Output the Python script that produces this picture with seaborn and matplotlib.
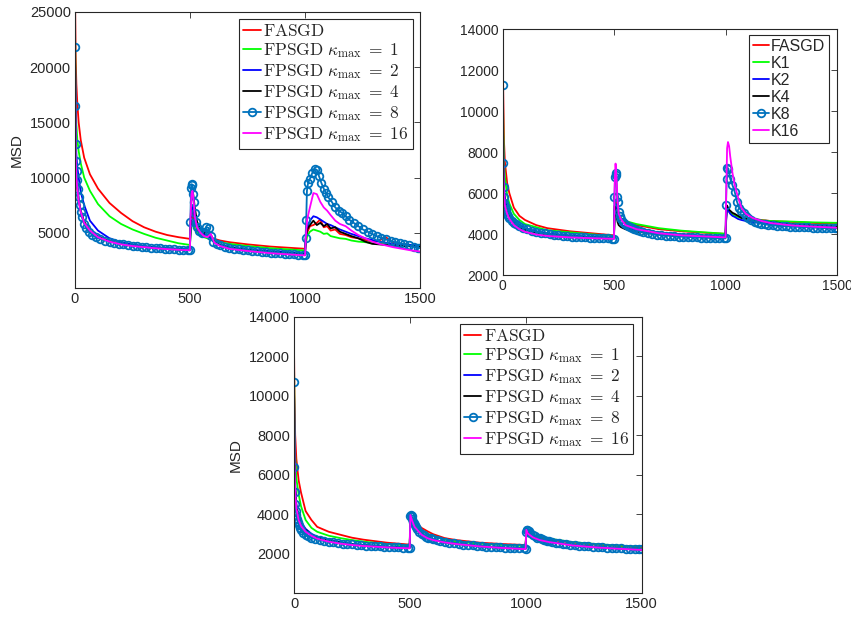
import numpy as np
import pandas as pd
import seaborn as sns
import matplotlib.pyplot as plt

# x positions (iterations) used for the plain lines of each panel
XA = [0, 3, 6, 10, 16, 25, 40, 65, 100, 150, 200, 250, 300, 350, 400, 450, 499,
      502, 506, 510, 515, 520, 530, 545, 560, 575, 590, 605, 630, 670, 750, 850, 999,
      1002, 1008, 1020, 1035, 1050, 1065, 1080, 1095, 1110, 1130, 1150, 1175, 1200,
      1230, 1260, 1290, 1320, 1350, 1380, 1420, 1460, 1500]
XB = [0, 3, 6, 10, 20, 30, 50, 75, 100, 150, 200, 300, 400, 499,
      502, 506, 510, 515, 520, 530, 550, 600, 700, 800, 900, 999,
      1002, 1006, 1010, 1015, 1020, 1030, 1040, 1055, 1070, 1090, 1120, 1160, 1200,
      1300, 1400, 1500]
XC = [0, 2, 5, 10, 20, 30, 50, 75, 100, 150, 200, 250, 300, 400, 499,
      502, 510, 520, 550, 575, 600, 650, 700, 800, 900, 999,
      1002, 1010, 1030, 1060, 1100, 1200, 1300, 1400, 1500]
# denser x positions for the marked kappa_max = 8 curve
X8 = [0, 2, 4, 6, 8, 10, 13, 16, 20, 25, 30, 40, 50, 60, 75, 90, 110, 130, 150, 170,
      190, 210, 230, 250, 270, 290, 310, 330, 350, 370, 390, 410, 430, 450, 470, 490, 499,
      501, 504, 507, 510, 513, 516, 520, 525, 530, 540, 550, 560, 570, 580, 590, 600,
      615, 630, 650, 670, 690, 710, 730, 750, 770, 790, 810, 830, 850, 870, 890, 910,
      930, 950, 970, 990, 999,
      1001, 1004, 1007, 1012, 1020, 1030, 1040, 1050, 1060, 1070, 1080, 1090, 1100,
      1115, 1130, 1145, 1160, 1175, 1190, 1210, 1230, 1250, 1270, 1290, 1310, 1330,
      1350, 1370, 1390, 1410, 1430, 1450, 1470, 1490, 1500]

# ---- top-left panel (MSD values) ----
a_fasgd = [27000, 21000, 18500, 16800, 15000, 13400, 11800, 10300, 9000, 7700, 6800, 6050, 5500, 5100, 4800, 4600, 4450,
           5200, 6200, 6800, 6300, 5800, 5300, 5000, 4800, 4700, 4550, 4450, 4300, 4150, 3950, 3750, 3550,
           4400, 5000, 5600, 5700, 5900, 6200, 5500, 5600, 5200, 5300, 4900, 4800, 4600, 4500, 4350, 4200,
           4300, 4600, 4100, 4000, 3850, 3750]
a_k1 = [24300, 16500, 14800, 13500, 12400, 11300, 10000, 8800, 7600, 6500, 5800, 5300, 4900, 4550, 4300, 4050, 3900,
        4800, 5600, 6000, 5700, 5400, 5000, 4750, 4600, 4500, 4350, 4250, 4150, 4000, 3800, 3600, 3400,
        4000, 4700, 5100, 5300, 5200, 5100, 4900, 4950, 4700, 4600, 4500, 4450, 4300, 4200, 4150, 4050,
        4000, 3950, 3900, 3850, 3800, 3750]
a_k2 = [22000, 14000, 12000, 11000, 10000, 8700, 7500, 6100, 5200, 4500, 4150, 3950, 3800, 3700, 3620, 3560, 3500,
        5500, 7000, 7500, 7000, 6300, 5500, 5100, 4900, 4800, 4500, 4100, 3900, 3700, 3500, 3330, 3150,
        4500, 5500, 6100, 6500, 6400, 6200, 6000, 5800, 5700, 5500, 5300, 5100, 4900, 4700, 4500, 4350,
        4200, 4100, 4000, 3950, 3900, 3850]
a_k4 = [22000, 12000, 10000, 9000, 8000, 7000, 6000, 5200, 4650, 4250, 4000, 3850, 3720, 3620, 3550, 3480, 3430,
        6000, 8500, 9000, 8200, 7300, 6000, 5300, 5000, 5100, 4800, 4200, 3900, 3650, 3450, 3250, 3050,
        4500, 5300, 5700, 6100, 5700, 5900, 5600, 5800, 5400, 5500, 5100, 4900, 4700, 4500, 4200, 4000,
        3950, 3900, 3850, 3800, 3780, 3750]
a_k16 = [21800, 12000, 10000, 9000, 7900, 6900, 5900, 5200, 4600, 4200, 3950, 3800, 3700, 3600, 3520, 3460, 3420,
         6500, 8500, 8800, 8000, 6500, 5500, 5000, 4700, 4600, 4900, 4100, 3800, 3550, 3350, 3150, 2950,
         4500, 6200, 7300, 8600, 8500, 7800, 7300, 7000, 6600, 6100, 5800, 5600, 5200, 4800, 4500, 4200,
         4000, 3850, 3700, 3550, 3400, 3300]
a_k8 = [21800, 16500, 13000, 11500, 10600, 9800, 9000, 8200, 7500, 6900, 6400, 5800, 5400, 5100, 4800, 4600,
        4450, 4300, 4200, 4100, 4020, 3950, 3880, 3830, 3780, 3740, 3700, 3660, 3630, 3600, 3570, 3540,
        3510, 3480, 3450, 3420, 3400,
        6000, 9100, 9400, 9300, 8500, 7800, 6800, 6000, 5500, 5200, 5000, 5100, 5500, 5450, 4700, 4200,
        4000, 3850, 3720, 3630, 3560, 3500, 3450, 3400, 3360, 3320, 3280, 3250, 3210, 3180, 3150, 3110,
        3080, 3050, 3020, 2990, 2970,
        4500, 6200, 8800, 9500, 9900, 10400, 10800, 10700, 10100, 9500, 9000, 8600, 8200, 7800, 7300,
        7000, 6800, 6500, 6200, 5900, 5600, 5300, 5100, 4900, 4700, 4550, 4400, 4250, 4150, 4050, 3950,
        3850, 3750, 3650, 3600]

# ---- top-right panel ----
b_fasgd = [12700, 10500, 8500, 7500, 6500, 6000, 5300, 4900, 4700, 4450, 4300, 4150, 4050, 3950,
           5300, 5600, 5300, 5000, 4850, 4750, 4600, 4450, 4250, 4150, 4080, 4020,
           4800, 5300, 5200, 5100, 5050, 5000, 4950, 4900, 4850, 4800, 4750, 4700, 4650, 4600, 4550, 4520]
b_k1 = [12000, 9000, 7500, 6800, 5900, 5500, 5000, 4700, 4500, 4350, 4200, 4100, 4000, 3920,
        5200, 5500, 5200, 5000, 4900, 4800, 4650, 4500, 4300, 4180, 4100, 4030,
        4800, 5300, 5250, 5150, 5050, 4950, 4900, 4850, 4800, 4750, 4720, 4680, 4650, 4620, 4580, 4560]
b_k2 = [11300, 7500, 6300, 5800, 5300, 5000, 4650, 4450, 4300, 4150, 4050, 3950, 3880, 3830,
        5200, 5500, 5100, 4800, 4650, 4500, 4350, 4200, 4050, 3980, 3930, 3880,
        4700, 5300, 5200, 5100, 5000, 4900, 4850, 4750, 4700, 4650, 4600, 4550, 4500, 4450, 4420, 4400]
b_k4 = [11300, 7000, 6000, 5500, 5100, 4850, 4550, 4350, 4220, 4080, 3990, 3900, 3840, 3800,
        5400, 5200, 4900, 4600, 4450, 4350, 4250, 4130, 4000, 3930, 3880, 3840,
        5400, 5400, 5300, 5200, 5150, 5050, 5000, 4900, 4800, 4750, 4700, 4650, 4600, 4500, 4450, 4400]
b_k16 = [11300, 7200, 6000, 5400, 5000, 4750, 4450, 4250, 4120, 3990, 3920, 3850, 3810, 3780,
         6500, 7450, 6800, 5600, 5000, 4750, 4450, 4250, 4050, 3950, 3900, 3850,
         6000, 8200, 8500, 8300, 7800, 7000, 6400, 5800, 5300, 5000, 4800, 4650, 4550, 4430, 4370, 4320]
b_k8 = [11300, 7500, 6300, 5800, 5550, 5400, 5250, 5150, 5000, 4900, 4800, 4650, 4550, 4480, 4400, 4320,
        4250, 4180, 4120, 4080, 4040, 4000, 3970, 3950, 3930, 3910, 3890, 3870, 3860, 3850, 3840, 3830,
        3820, 3810, 3800, 3790, 3780,
        5800, 6800, 7000, 6900, 5800, 5600, 5100, 4900, 4750, 4600, 4500, 4420, 4350, 4300, 4250, 4200,
        4150, 4100, 4050, 4020, 3990, 3960, 3940, 3920, 3900, 3890, 3880, 3870, 3860, 3850, 3840, 3830,
        3820, 3810, 3800, 3800, 3800,
        5430, 6700, 7250, 7200, 6700, 6400, 6080, 5600, 5300, 5150, 5050, 4900, 4800, 4700, 4620,
        4560, 4520, 4490, 4460, 4440, 4420, 4400, 4390, 4380, 4370, 4360, 4350, 4340, 4330, 4320, 4310,
        4300, 4300, 4300, 4300]

# ---- bottom panel ----
c_fasgd = [12450, 10000, 8000, 6800, 5700, 5100, 4150, 3700, 3350, 3100, 2950, 2800, 2700, 2550, 2450,
           3900, 3800, 3600, 3300, 3130, 2980, 2780, 2680, 2550, 2480, 2430,
           3150, 3050, 2900, 2800, 2700, 2550, 2450, 2380, 2300]
c_k1 = [11800, 9000, 7000, 5800, 5000, 4400, 3700, 3300, 3100, 2900, 2780, 2680, 2600, 2480, 2400,
        3900, 3750, 3500, 3150, 3000, 2900, 2700, 2600, 2500, 2430, 2380,
        3150, 3100, 2950, 2850, 2750, 2580, 2480, 2400, 2350]
c_k2 = [10700, 7000, 5500, 4500, 3900, 3600, 3250, 3000, 2850, 2680, 2570, 2490, 2430, 2350, 2300,
        3950, 3700, 3400, 3000, 2800, 2700, 2580, 2500, 2380, 2300, 2250,
        3200, 3050, 2850, 2700, 2600, 2430, 2330, 2260, 2200]
c_k4 = [10700, 6800, 5300, 4400, 3800, 3500, 3200, 2950, 2800, 2650, 2550, 2470, 2410, 2330, 2280,
        3950, 3700, 3380, 2980, 2790, 2690, 2570, 2490, 2370, 2290, 2240,
        3200, 3030, 2840, 2690, 2590, 2420, 2320, 2250, 2190]
c_k16 = [10700, 6500, 5100, 4300, 3700, 3400, 3100, 2900, 2750, 2600, 2500, 2430, 2380, 2310, 2260,
         3950, 3650, 3350, 2950, 2780, 2680, 2560, 2480, 2360, 2280, 2220,
         3200, 3000, 2820, 2680, 2580, 2410, 2310, 2240, 2180]
c_k8 = [10700, 6400, 5100, 4500, 4150, 3950, 3750, 3600, 3450, 3300, 3200, 3050, 2950, 2880, 2800, 2740,
        2680, 2630, 2590, 2560, 2530, 2500, 2480, 2460, 2440, 2420, 2400, 2390, 2370, 2360, 2350, 2330,
        2320, 2310, 2300, 2290, 2290,
        3900, 3970, 3900, 3750, 3620, 3520, 3420, 3320, 3230, 3100, 3000, 2920, 2860, 2800, 2760, 2720,
        2670, 2630, 2580, 2540, 2510, 2480, 2450, 2430, 2410, 2390, 2370, 2350, 2340, 2320, 2310, 2300,
        2290, 2280, 2270, 2260, 2250,
        3100, 3200, 3210, 3130, 3030, 2940, 2870, 2810, 2760, 2720, 2680, 2650, 2620, 2580, 2550,
        2520, 2490, 2470, 2450, 2420, 2400, 2380, 2360, 2350, 2330, 2320, 2300, 2290, 2280, 2260, 2250,
        2240, 2230, 2220, 2210]

math_labels = [r'$\mathrm{FASGD}$'] + [r'$\mathrm{FPSGD}\ \kappa_{\max}\;=\;%d$' % k for k in (1, 2, 4, 8, 16)]
short_labels = ['FASGD', 'K1', 'K2', 'K4', 'K8', 'K16']
colors = ['#ff0000', '#00ff00', '#0000ff', '#000000', '#0072bd', '#ff00ff']

sns.set_theme(style='white')
plt.rcParams['font.family'] = ['Liberation Sans', 'DejaVu Sans']
plt.rcParams['mathtext.fontset'] = 'cm'
plt.rcParams['axes.edgecolor'] = '#262626'
plt.rcParams['axes.linewidth'] = 0.8
plt.rcParams['xtick.color'] = '#262626'
plt.rcParams['ytick.color'] = '#262626'


def draw(ax, x, lines, k8, k16, labels, ylim, yticks, tick_fs, leg_fs, anchor):
    # plain lines first, then the marked one, then magenta on top (MATLAB order)
    for i, y in enumerate(lines):
        sns.lineplot(x=x, y=y, ax=ax, color=colors[i], lw=1.3, label=labels[i],
                     sort=False, estimator=None)
    sns.lineplot(x=X8, y=k8, ax=ax, color=colors[4], lw=1.3, marker='o', markersize=5.5,
                 markerfacecolor='none', markeredgecolor=colors[4], markeredgewidth=1.3,
                 label=labels[4], sort=False, estimator=None)
    sns.lineplot(x=x, y=k16, ax=ax, color=colors[5], lw=1.3, label=labels[5],
                 sort=False, estimator=None)
    ax.set_xlim(0, 1500)
    ax.set_ylim(*ylim)
    ax.set_xticks([0, 500, 1000, 1500])
    ax.set_yticks(yticks)
    ax.tick_params(direction='in', length=4, width=0.6, top=True, right=True,
                   labelsize=tick_fs, pad=3)
    for s in ax.spines.values():
        s.set_visible(True)
    leg = ax.legend(loc='upper right', bbox_to_anchor=anchor, borderaxespad=0,
                    fontsize=leg_fs, frameon=True, fancybox=False, framealpha=1,
                    edgecolor='#262626', handlelength=1.0, handletextpad=0.15,
                    labelspacing=0.12, borderpad=0.25)
    leg.get_frame().set_linewidth(0.8)


fig = plt.figure(figsize=(8.51, 6.18), dpi=100)
ax_a = fig.add_axes([0.0881, 0.534, 0.406, 0.4466])
ax_b = fig.add_axes([0.5907, 0.5545, 0.3932, 0.3981])
ax_c = fig.add_axes([0.3455, 0.0405, 0.4086, 0.4471])

draw(ax_a, XA, [a_fasgd, a_k1, a_k2, a_k4], a_k8, a_k16, math_labels,
     (0, 25000), [5000, 10000, 15000, 20000, 25000], 10.5, 12.5, (0.978, 0.975))
draw(ax_b, XB, [b_fasgd, b_k1, b_k2, b_k4], b_k8, b_k16, short_labels,
     (2000, 14000), list(range(2000, 14001, 2000)), 10, 11.5, (0.976, 0.977))
draw(ax_c, XC, [c_fasgd, c_k1, c_k2, c_k4], c_k8, c_k16, math_labels,
     (0, 14000), list(range(2000, 14001, 2000)), 10.5, 12.5, (0.976, 0.974))

ax_a.set_ylabel('MSD', fontsize=11, color='#262626')
ax_c.set_ylabel('MSD', fontsize=11, color='#262626')
ax_b.set_ylabel('')

fig.savefig('out.png', dpi=100)
